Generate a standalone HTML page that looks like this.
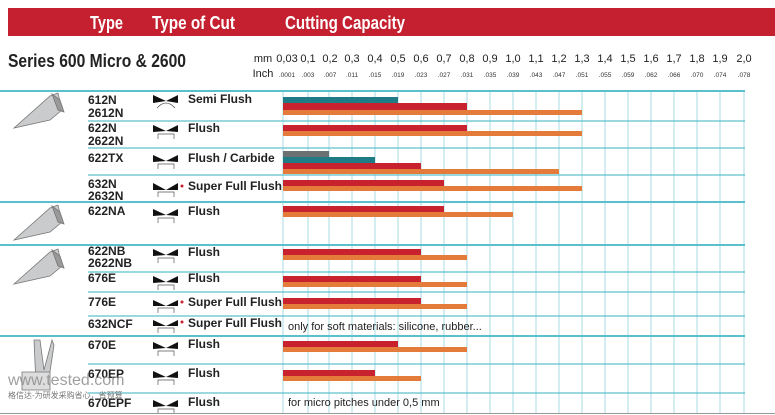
<!DOCTYPE html>
<html><head><meta charset="utf-8"><style>
html,body{margin:0;padding:0;background:#fff;}
svg{display:block}
text{font-family:"Liberation Sans Narrow","Liberation Sans",sans-serif;}
.b{font-weight:bold}
.t{font-weight:bold;font-size:12px;fill:#222}
.c{font-weight:bold;font-size:12px;fill:#222}
</style></head><body>
<svg width="775" height="415" viewBox="0 0 775 415" xmlns="http://www.w3.org/2000/svg">
<rect x="8" y="8" width="767" height="28" fill="#c4202f"/>
<text x="90" y="29" class="b" font-size="18" fill="#fff" textLength="33" lengthAdjust="spacingAndGlyphs">Type</text>
<text x="152" y="29" class="b" font-size="18" fill="#fff" textLength="83" lengthAdjust="spacingAndGlyphs">Type of Cut</text>
<text x="285" y="29" class="b" font-size="18" fill="#fff" textLength="120" lengthAdjust="spacingAndGlyphs">Cutting Capacity</text>
<text x="8" y="67" class="b" font-size="18" fill="#222" textLength="178" lengthAdjust="spacingAndGlyphs">Series 600 Micro &amp; 2600</text>
<g font-size="11" fill="#222" text-anchor="middle">
<text x="263" y="62">mm</text>
<text x="287" y="62">0,03</text><text x="308" y="62">0,1</text><text x="330" y="62">0,2</text><text x="352" y="62">0,3</text><text x="375" y="62">0,4</text><text x="398" y="62">0,5</text><text x="421" y="62">0,6</text><text x="444" y="62">0,7</text><text x="467" y="62">0,8</text><text x="490" y="62">0,9</text><text x="513" y="62">1,0</text><text x="536" y="62">1,1</text><text x="559" y="62">1,2</text><text x="582" y="62">1,3</text><text x="605" y="62">1,4</text><text x="628" y="62">1,5</text><text x="651" y="62">1,6</text><text x="674" y="62">1,7</text><text x="697" y="62">1,8</text><text x="720" y="62">1,9</text><text x="744" y="62">2,0</text>
<text x="263" y="77">Inch</text>
</g>
<g font-size="6.5" fill="#333" text-anchor="middle">
<text x="287" y="77">.0001</text><text x="308" y="77">.003</text><text x="330" y="77">.007</text><text x="352" y="77">.011</text><text x="375" y="77">.015</text><text x="398" y="77">.019</text><text x="421" y="77">.023</text><text x="444" y="77">.027</text><text x="467" y="77">.031</text><text x="490" y="77">.035</text><text x="513" y="77">.039</text><text x="536" y="77">.043</text><text x="559" y="77">.047</text><text x="582" y="77">.051</text><text x="605" y="77">.055</text><text x="628" y="77">.059</text><text x="651" y="77">.062</text><text x="674" y="77">.066</text><text x="697" y="77">.070</text><text x="720" y="77">.074</text><text x="744" y="77">.078</text>
</g>
<g stroke="#a8dbe2" stroke-width="1">
<line x1="283" y1="91" x2="283" y2="413"/><line x1="308" y1="91" x2="308" y2="413"/><line x1="329" y1="91" x2="329" y2="413"/><line x1="352" y1="91" x2="352" y2="413"/><line x1="375" y1="91" x2="375" y2="413"/><line x1="398" y1="91" x2="398" y2="413"/><line x1="421" y1="91" x2="421" y2="413"/><line x1="444" y1="91" x2="444" y2="413"/><line x1="467" y1="91" x2="467" y2="413"/><line x1="490" y1="91" x2="490" y2="413"/><line x1="513" y1="91" x2="513" y2="413"/><line x1="536" y1="91" x2="536" y2="413"/><line x1="559" y1="91" x2="559" y2="413"/><line x1="582" y1="91" x2="582" y2="413"/><line x1="605" y1="91" x2="605" y2="413"/><line x1="628" y1="91" x2="628" y2="413"/><line x1="651" y1="91" x2="651" y2="413"/><line x1="674" y1="91" x2="674" y2="413"/><line x1="697" y1="91" x2="697" y2="413"/><line x1="720" y1="91" x2="720" y2="413"/><line x1="744" y1="91" x2="744" y2="413"/>
</g>
<g stroke="#5cc0cc" stroke-width="1.2">
<line x1="0" y1="91" x2="745" y2="91" stroke-width="2"/>
<line x1="88" y1="121" x2="745" y2="121"/>
<line x1="88" y1="148" x2="745" y2="148"/>
<line x1="88" y1="175" x2="745" y2="175"/>
<line x1="0" y1="202" x2="745" y2="202" stroke-width="2"/>
<line x1="0" y1="245" x2="745" y2="245" stroke-width="2"/>
<line x1="88" y1="272" x2="745" y2="272"/>
<line x1="88" y1="292" x2="745" y2="292"/>
<line x1="88" y1="316" x2="745" y2="316"/>
<line x1="0" y1="336" x2="745" y2="336" stroke-width="2"/>
<line x1="88" y1="364" x2="745" y2="364"/>
<line x1="88" y1="393" x2="745" y2="393"/>
</g>
<line x1="0" y1="413.5" x2="775" y2="413.5" stroke="#999" stroke-width="1"/>
<g>
<rect x="283" y="97" width="115" height="6" fill="#1f7c87"/>
<rect x="283" y="103" width="184" height="7" fill="#c8222f"/>
<rect x="283" y="110" width="299" height="5" fill="#e47b3a"/>
<rect x="283" y="125" width="184" height="6" fill="#c8222f"/>
<rect x="283" y="131" width="299" height="5" fill="#e47b3a"/>
<rect x="283" y="151" width="46" height="6" fill="#6b7072"/>
<rect x="283" y="157" width="92" height="6" fill="#1f7c87"/>
<rect x="283" y="163" width="138" height="6" fill="#c8222f"/>
<rect x="283" y="169" width="276" height="5" fill="#e47b3a"/>
<rect x="283" y="180" width="161" height="6" fill="#c8222f"/>
<rect x="283" y="186" width="299" height="5" fill="#e47b3a"/>
<rect x="283" y="206" width="161" height="6" fill="#c8222f"/>
<rect x="283" y="212" width="230" height="5" fill="#e47b3a"/>
<rect x="283" y="249" width="138" height="6" fill="#c8222f"/>
<rect x="283" y="255" width="184" height="5" fill="#e47b3a"/>
<rect x="283" y="276" width="138" height="6" fill="#c8222f"/>
<rect x="283" y="282" width="184" height="5" fill="#e47b3a"/>
<rect x="283" y="298" width="138" height="6" fill="#c8222f"/>
<rect x="283" y="304" width="184" height="5" fill="#e47b3a"/>
<rect x="283" y="341" width="115" height="6" fill="#c8222f"/>
<rect x="283" y="347" width="184" height="5" fill="#e47b3a"/>
<rect x="283" y="370" width="92" height="6" fill="#c8222f"/>
<rect x="283" y="376" width="138" height="5" fill="#e47b3a"/>
</g>
<text x="288" y="330" font-size="11" fill="#222">only for soft materials: silicone, rubber...</text>
<text x="288" y="406" font-size="11" fill="#222">for micro pitches under 0,5 mm</text>
<text x="88" y="104" class="t">612N</text><text x="88" y="117" class="t">2612N</text>
<text x="88" y="132" class="t">622N</text><text x="88" y="145" class="t">2622N</text>
<text x="88" y="162" class="t">622TX</text>
<text x="88" y="188" class="t">632N</text><text x="88" y="200" class="t">2632N</text>
<text x="88" y="215" class="t">622NA</text>
<text x="88" y="255" class="t">622NB</text><text x="88" y="267" class="t">2622NB</text>
<text x="88" y="282" class="t">676E</text>
<text x="88" y="306" class="t">776E</text>
<text x="88" y="328" class="t">632NCF</text>
<text x="88" y="349" class="t">670E</text>
<text x="88" y="378" class="t">670EP</text>
<text x="88" y="407" class="t">670EPF</text>
<text x="188" y="103" class="c">Semi Flush</text>
<text x="188" y="132" class="c">Flush</text>
<text x="188" y="162" class="c">Flush / Carbide</text>
<text x="188" y="190" class="c">Super Full Flush</text>
<text x="188" y="215" class="c">Flush</text>
<text x="188" y="256" class="c">Flush</text>
<text x="188" y="282" class="c">Flush</text>
<text x="188" y="306" class="c">Super Full Flush</text>
<text x="188" y="327" class="c">Super Full Flush</text>
<text x="188" y="348" class="c">Flush</text>
<text x="188" y="377" class="c">Flush</text>
<text x="188" y="406" class="c">Flush</text>
<g fill="#111">
<path d="M153 95 L166 101 L153 103Z M178 95 L166 101 L178 103Z"/><path d="M157 108 Q166 98 175 108" stroke="#555" fill="none" stroke-width="0.7"/>
<path d="M153 125 L166 131 L153 132Z M178 125 L166 131 L178 132Z"/><path d="M158 139 V134 H174 V139" stroke="#555" fill="none" stroke-width="0.7"/>
<path d="M153 155 L166 161 L153 162Z M178 155 L166 161 L178 162Z"/><path d="M158 169 V164 H174 V169" stroke="#555" fill="none" stroke-width="0.7"/>
<path d="M153 183 L166 190 L153 190Z M178 183 L166 190 L178 190Z"/><circle cx="182" cy="186" r="1.5" fill="#c8222f"/><path d="M158 197 V192 H174 V197" stroke="#555" fill="none" stroke-width="0.7"/>
<path d="M153 209 L166 215 L153 216Z M178 209 L166 215 L178 216Z"/><path d="M158 223 V218 H174 V223" stroke="#555" fill="none" stroke-width="0.7"/>
<path d="M153 249 L166 255 L153 256Z M178 249 L166 255 L178 256Z"/><path d="M158 263 V258 H174 V263" stroke="#555" fill="none" stroke-width="0.7"/>
<path d="M153 276 L166 282 L153 283Z M178 276 L166 282 L178 283Z"/><path d="M158 290 V285 H174 V290" stroke="#555" fill="none" stroke-width="0.7"/>
<path d="M153 300 L166 306 L153 306Z M178 300 L166 306 L178 306Z"/><circle cx="182" cy="302" r="1.5" fill="#c8222f"/><path d="M158 313 V308 H174 V313" stroke="#555" fill="none" stroke-width="0.7"/>
<path d="M153 320 L166 326 L153 326Z M178 320 L166 326 L178 326Z"/><circle cx="182" cy="322" r="1.5" fill="#c8222f"/><path d="M158 333 V328 H174 V333" stroke="#555" fill="none" stroke-width="0.7"/>
<path d="M153 342 L166 348 L153 349Z M178 342 L166 348 L178 349Z"/><path d="M158 356 V351 H174 V356" stroke="#555" fill="none" stroke-width="0.7"/>
<path d="M153 371 L166 377 L153 378Z M178 371 L166 377 L178 378Z"/><path d="M158 385 V380 H174 V385" stroke="#555" fill="none" stroke-width="0.7"/>
<path d="M153 400 L166 406 L153 407Z M178 400 L166 406 L178 407Z"/><path d="M158 413 V409 H174 V413" stroke="#555" fill="none" stroke-width="0.7"/>
</g>
<g fill="#c9cbcc" stroke="#777" stroke-width="0.8">
<path d="M14 128 L50 96 L58 93 L62 110 L50 120 Z"/><path d="M52 94 L60 100 L64 112 L58 110Z" fill="#999"/>
<path d="M14 240 L50 208 L58 205 L62 222 L50 232 Z"/><path d="M52 206 L60 212 L64 224 L58 222Z" fill="#999"/>
<path d="M14 284 L50 252 L58 249 L62 266 L50 276 Z"/><path d="M52 250 L60 256 L64 268 L58 266Z" fill="#999"/>
<path d="M34 340 L40 340 L44 370 L52 340 L54 345 L48 385 L36 385 Z"/><path d="M22 372 L50 372 L50 390 L22 390Z" fill="#ddd"/>
</g>
<text x="8" y="385" font-family="Liberation Sans,sans-serif" font-size="16" fill="#888" opacity="0.8">www.tested.com</text>
<text x="8" y="398" font-family="'Liberation Sans','Noto Sans CJK SC',sans-serif" font-size="8" fill="#777">格信达-为研发采购省心，省预算</text>
</svg>
</body></html>
